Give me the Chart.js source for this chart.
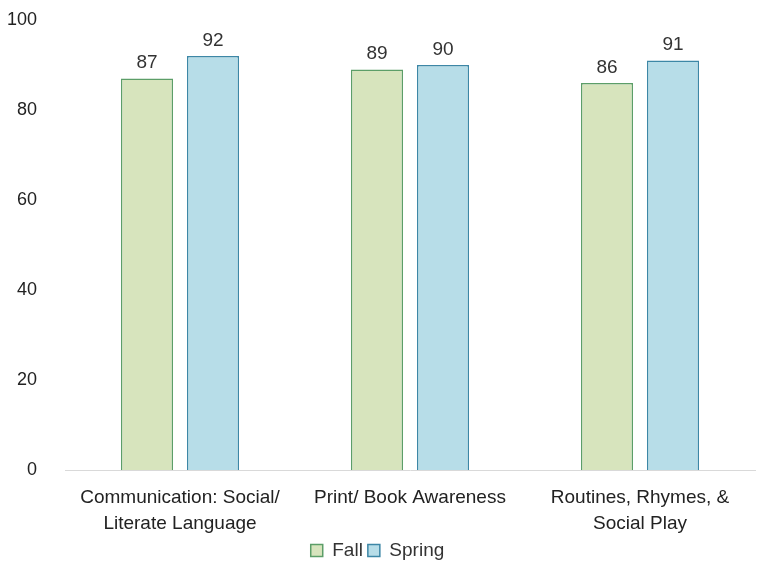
<!DOCTYPE html>
<html>
<head>
<meta charset="utf-8">
<script src="https://cdn.jsdelivr.net/npm/chart.js@4.4.0/dist/chart.umd.min.js"></script>
<style>
  html, body { margin: 0; padding: 0; background: #fff; }
</style>
</head>
<body>
<canvas id="chart" width="758" height="565"></canvas>
<script>
const categories = [
    ['Communication: Social/', 'Literate Language'],
    'Print/ Book Awareness',
    ['Routines, Rhymes, &', 'Social Play']
];
const fallValues = [87, 89, 86];
const springValues = [92, 90, 91];
const yTicks = [0, 20, 40, 60, 80, 100];

const FONT = "'Liberation Sans', Arial, sans-serif";

// values drawn above each bar
const valueLabels = {
    id: 'valueLabels',
    afterDatasetsDraw(chart) {
        const ctx = chart.ctx;
        ctx.save();
        ctx.font = '19px ' + FONT;
        ctx.fillStyle = '#333';
        ctx.textAlign = 'center';
        ctx.textBaseline = 'bottom';
        chart.data.datasets.forEach((ds, i) => {
            chart.getDatasetMeta(i).data.forEach((bar, j) => {
                ctx.fillText(ds.data[j], bar.x, bar.y - 6);
            });
        });
        ctx.restore();
    }
};

// keep the legend strip short so the plot reaches further down
const legendHeight = {
    id: 'legendHeight',
    afterInit(chart) {
        const lg = chart.legend;
        const fit = lg.fit.bind(lg);
        lg.fit = function () { fit(); this.height = 29; };
    }
};

const chart = new Chart(document.getElementById('chart'), {
    type: 'bar',
    data: {
        labels: categories,
        datasets: [
            {
                label: 'Fall',
                data: fallValues,
                backgroundColor: '#d7e4bd',
                borderColor: '#5c9e68',
                borderWidth: 1.5,
                categoryPercentage: 0.574,
                barPercentage: 0.79
            },
            {
                label: 'Spring',
                data: springValues,
                backgroundColor: '#b7dde8',
                borderColor: '#3d87a6',
                borderWidth: 1.5,
                categoryPercentage: 0.574,
                barPercentage: 0.79
            }
        ]
    },
    options: {
        responsive: false,
        animation: false,
        devicePixelRatio: 1,
        layout: { padding: { top: 20, right: 3, left: 0, bottom: 0 } },
        plugins: {
            legend: {
                position: 'bottom',
                labels: {
                    font: { size: 19, family: FONT },
                    color: '#333',
                    boxWidth: 12,
                    boxHeight: 12,
                    padding: 5
                }
            },
            tooltip: { enabled: false }
        },
        scales: {
            x: {
                grid: { display: false },
                border: { color: '#d9d9d9', width: 1 },
                ticks: {
                    font: { size: 19, family: FONT, lineHeight: 1.37 },
                    color: '#222',
                    maxRotation: 0,
                    padding: 7
                },
                afterFit(scale) { scale.height = 66; }
            },
            y: {
                min: 0,
                max: 100,
                afterBuildTicks(scale) { scale.ticks = yTicks.map(v => ({ value: v })); },
                grid: { display: false },
                border: { display: false },
                ticks: {
                    font: { size: 18, family: FONT },
                    color: '#222',
                    padding: 20
                },
                afterFit(scale) {
                    scale.width = 65;
                    scale.paddingTop = 9;
                    scale.paddingBottom = 9;
                }
            }
        }
    },
    plugins: [valueLabels, legendHeight]
});
</script>
</body>
</html>
